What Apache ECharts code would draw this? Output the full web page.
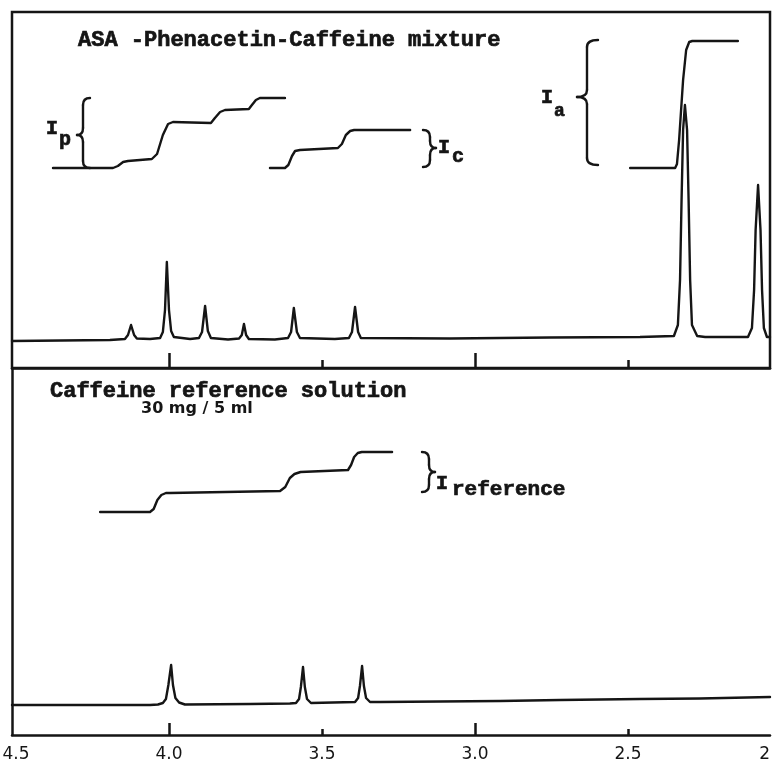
<!DOCTYPE html>
<html>
<head>
<meta charset="utf-8">
<script src="https://cdn.jsdelivr.net/npm/echarts@6/dist/echarts.min.js"></script>
<style>
  html, body { margin: 0; padding: 0; background: #ffffff; }
  #chart { width: 773px; height: 765px; }
</style>
</head>
<body>
<div id="chart"></div>
<script>
// ---- axis (ppm, reversed) ----
const xMin = 2.036;
const xMax = 4.513;
const tickLabelValues = [4.5, 4.0, 3.5, 3.0, 2.5, 2.0];
const tickLabelTexts = ['4.5', '4.0', '3.5', '3.0', '2.5', '2'];
const majorTicks = [4.0, 3.0];
const minorTicks = [3.5, 2.5];

// ---- top panel: ASA - Phenacetin - Caffeine mixture spectrum [ppm, intensity] ----
const mixtureSpectrum = [
  [4.513, -1], [4.193, 0],
  [4.144, 1], [4.134, 5], [4.124, 15], [4.114, 5], [4.105, 1.5],
  [4.062, 1],
  [4.029, 2], [4.020, 8], [4.013, 30], [4.007, 78], [4.000, 30], [3.993, 9], [3.984, 3],
  [3.931, 1],
  [3.902, 2], [3.892, 8], [3.882, 34], [3.873, 9], [3.863, 2],
  [3.807, 0.5],
  [3.771, 1.5], [3.762, 5], [3.755, 16], [3.748, 5], [3.739, 1],
  [3.654, 0.5],
  [3.611, 2], [3.601, 8], [3.592, 32], [3.582, 8], [3.572, 2],
  [3.458, 1],
  [3.412, 2], [3.402, 8], [3.392, 33], [3.382, 8], [3.373, 2],
  [3.082, 1.5], [2.755, 2.5], [2.461, 3],
  [2.350, 4], [2.337, 15], [2.330, 60], [2.325, 140], [2.320, 210], [2.314, 235],
  [2.307, 210], [2.302, 140], [2.297, 60], [2.291, 15], [2.274, 4], [2.248, 3],
  [2.108, 3], [2.095, 12], [2.088, 50], [2.083, 110], [2.075, 155], [2.067, 110],
  [2.062, 50], [2.056, 12], [2.046, 3], [2.036, 3]
];

// integral traces (top panel)
const integralP = [
  [4.379, 172], [4.183, 172], [4.167, 174], [4.150, 178], [4.134, 179], [4.056, 181],
  [4.039, 186], [4.020, 205], [4.003, 216], [3.987, 218], [3.863, 217], [3.850, 222],
  [3.833, 228], [3.817, 230], [3.739, 231], [3.729, 235], [3.716, 240], [3.703, 242], [3.621, 242]
];
const integralC = [
  [3.670, 172], [3.621, 172], [3.610, 175], [3.598, 184], [3.588, 189], [3.572, 190],
  [3.448, 192], [3.435, 196], [3.422, 205], [3.408, 209], [3.395, 210], [3.212, 210]
];
const integralA = [
  [2.493, 172], [2.346, 172], [2.340, 176], [2.333, 200], [2.320, 260], [2.310, 290],
  [2.300, 298], [2.290, 299], [2.141, 299]
];

// ---- bottom panel: caffeine reference solution ----
const referenceSpectrum = [
  [4.513, 0], [4.062, 0],
  [4.036, 0.5], [4.020, 2], [4.010, 6], [4.002, 20], [3.993, 40], [3.987, 20], [3.979, 7], [3.967, 2.5], [3.948, 0.5],
  [3.735, 1], [3.605, 1.5],
  [3.585, 2], [3.575, 6], [3.569, 18], [3.562, 38], [3.556, 18], [3.549, 6], [3.536, 2],
  [3.392, 3], [3.382, 7], [3.376, 19], [3.369, 39], [3.363, 19], [3.356, 7], [3.343, 3],
  [3.310, 3], [2.918, 4], [2.722, 5], [2.461, 6], [2.265, 6.5], [2.036, 8]
];
const integralRef = [
  [4.225, 193], [4.062, 193], [4.050, 196], [4.038, 205], [4.025, 210], [4.010, 212],
  [3.997, 212], [3.637, 214], [3.620, 218], [3.605, 227], [3.590, 231], [3.570, 233],
  [3.415, 235], [3.405, 240], [3.395, 248], [3.383, 252], [3.370, 253], [3.271, 253]
];

const INK = '#151515';
const TYPE = '"Liberation Mono", "DejaVu Sans Mono", monospace';

function traceSeries(data, xi, yi, w) {
  return {
    type: 'line', xAxisIndex: xi, yAxisIndex: yi, data: data,
    showSymbol: false, symbol: 'none', silent: true,
    lineStyle: { color: INK, width: w || 2.4, join: 'round', cap: 'round' },
    z: 3
  };
}

function makeX(gi, ticks, len, showLine, showLabel) {
  return {
    type: 'value', gridIndex: gi, inverse: true, min: xMin, max: xMax,
    position: 'bottom', offset: 0,
    splitLine: { show: false },
    axisLine: { show: showLine, onZero: false, lineStyle: { color: INK, width: 2.5 } },
    axisTick: { show: true, inside: true, customValues: ticks, length: len, lineStyle: { color: INK, width: 2.5 } },
    axisLabel: showLabel ? {
      show: true, margin: 11,
      customValues: tickLabelValues.map(v => Math.max(v, xMin)),
      formatter: function (v) {
        let best = 0, bd = 1e9;
        tickLabelValues.forEach((t, i) => { const d = Math.abs(Math.max(t, xMin) - v); if (d < bd) { bd = d; best = i; } });
        return tickLabelTexts[best];
      },
      alignMinLabel: 'center', alignMaxLabel: 'right',
      color: INK, fontFamily: '"DejaVu Sans", sans-serif', fontSize: 17
    } : { show: false }
  };
}

function seg(type, shape) {
  return { type: type, silent: true, z: 10, shape: shape,
    style: { fill: null, stroke: INK, lineWidth: 2.4, lineCap: 'round' } };
}
function brace(xOpen, xMid, xTip, yTop, yTip, yBot) {
  const r = 7;
  return { type: 'group', silent: true, children: [
    seg('bezierCurve', { x1: xOpen, y1: yTop, cpx1: xMid, cpy1: yTop, x2: xMid, y2: yTop + r }),
    seg('line', { x1: xMid, y1: yTop + r, x2: xMid, y2: yTip - r }),
    seg('bezierCurve', { x1: xMid, y1: yTip - r, cpx1: xMid, cpy1: yTip, x2: xTip, y2: yTip }),
    seg('bezierCurve', { x1: xTip, y1: yTip, cpx1: xMid, cpy1: yTip, x2: xMid, y2: yTip + r }),
    seg('line', { x1: xMid, y1: yTip + r, x2: xMid, y2: yBot - r }),
    seg('bezierCurve', { x1: xMid, y1: yBot - r, cpx1: xMid, cpy1: yBot, x2: xOpen, y2: yBot })
  ] };
}

function txt(x, y, s, font, heavy) {
  return { type: 'text', x: x, y: y, silent: true, z: 10,
    style: { text: s, font: font, fill: INK, stroke: heavy ? INK : null, lineWidth: heavy ? 0.7 : 0,
      textVerticalAlign: 'middle', verticalAlign: 'middle', textAlign: 'left', align: 'left' } };
}

const chart = echarts.init(document.getElementById('chart'), null, { renderer: 'canvas' });
chart.setOption({
  animation: false,
  backgroundColor: '#ffffff',
  grid: [
    { left: 12, right: 3, top: 12, height: 356, containLabel: false, outerBoundsMode: 'none',
      show: true, borderColor: INK, borderWidth: 2.5, backgroundColor: 'transparent' },
    { left: 12, right: 3, top: 368, height: 367, containLabel: false, outerBoundsMode: 'none' }
  ],
  xAxis: [
    makeX(0, majorTicks, 15, true, false),
    makeX(0, minorTicks, 8, false, false),
    makeX(1, majorTicks, 12, true, true),
    makeX(1, minorTicks, 6, false, false)
  ],
  yAxis: [
    { type: 'value', gridIndex: 0, min: -28, max: 328, show: false, splitLine: { show: false } },
    { type: 'value', gridIndex: 1, min: -30, max: 337, position: 'left', splitLine: { show: false },
      axisLine: { show: true, onZero: false, lineStyle: { color: INK, width: 2.5 } }, axisTick: { show: false }, axisLabel: { show: false } }
  ],
  series: [
    traceSeries(mixtureSpectrum, 0, 0),
    traceSeries(integralP, 0, 0),
    traceSeries(integralC, 0, 0),
    traceSeries(integralA, 0, 0),
    traceSeries(referenceSpectrum, 2, 1),
    traceSeries(integralRef, 2, 1)
  ],
  graphic: [
    txt(78, 40, 'ASA -Phenacetin-Caffeine mixture', 'bold 22px ' + TYPE, true),
    txt(50, 391, 'Caffeine reference solution', 'bold 22px ' + TYPE, true),
    txt(141, 409, '30 mg / 5 ml', 'bold 16px "DejaVu Sans", sans-serif', false),
    txt(46, 129, 'I', 'bold 20px ' + TYPE, true),
    txt(59, 140, 'p', 'bold 20px ' + TYPE, true),
    txt(438, 148, 'I', 'bold 20px ' + TYPE, true),
    txt(452, 157, 'c', 'bold 20px ' + TYPE, true),
    txt(541, 98, 'I', 'bold 20px ' + TYPE, true),
    txt(554, 111, 'a', 'bold 18px ' + TYPE, true),
    txt(436, 484, 'I', 'bold 20px ' + TYPE, true),
    txt(452, 490, 'reference', 'bold 21px ' + TYPE, true),
    brace(90, 83, 77, 98, 135, 168),
    brace(423, 430, 436, 130, 148, 167),
    brace(598, 587, 577, 40, 97, 165),
    brace(422, 429, 435, 452, 472, 492)
  ]
});
</script>
</body>
</html>
